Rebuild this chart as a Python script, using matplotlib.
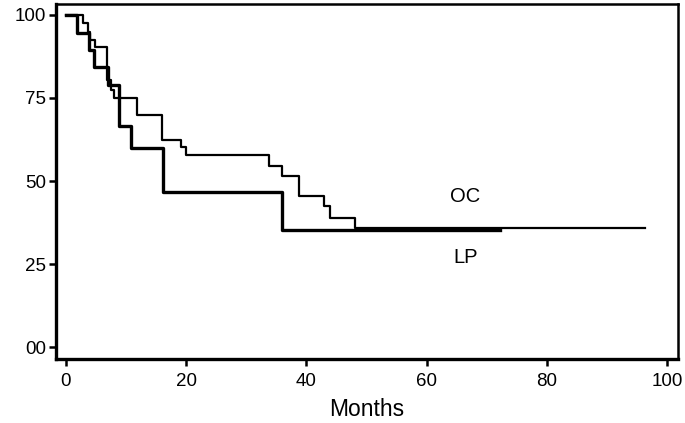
import matplotlib
matplotlib.use("Agg")
import matplotlib.pyplot as plt

plt.rcParams['font.family'] = ['Liberation Sans', 'DejaVu Sans']

# Kaplan-Meier steps (months, % surviving)
lp_t = [0, 1.9, 3.9, 4.7, 7.0, 8.9, 10.9, 16.1, 35.9, 72.2]
lp_s = [100, 94.7, 89.5, 84.2, 78.9, 66.7, 59.8, 46.8, 35.3, 35.3]

oc_t = [0, 2.9, 3.7, 4.0, 4.8, 6.9, 7.5, 8.0, 11.9, 16.0, 19.1, 20.0,
        33.8, 35.9, 38.8, 43.0, 43.9, 48.0, 96.3]
oc_s = [100, 97.5, 95, 92.5, 90.5, 80.4, 77.5, 74.9, 70.0, 62.3, 60.3, 57.8,
        54.6, 51.5, 45.5, 42.5, 38.9, 35.8, 35.8]

xticks = [0, 20, 40, 60, 80, 100]
yticks = [0, 25, 50, 75, 100]
ylabels = ["00", "25", "50", "75", "100"]

fig = plt.figure(figsize=(6.85, 4.23), dpi=100)
ax = fig.add_axes([0.0813, 0.1513, 0.9085, 0.8392])

ax.step(oc_t, oc_s, where='post', color='black', lw=1.6)
ax.step(lp_t, lp_s, where='post', color='black', lw=2.4)

ax.text(66.4, 45.2, "OC", fontsize=14.5, ha='center', va='center')
ax.text(66.4, 27.0, "LP", fontsize=14.5, ha='center', va='center')

ax.set_xlim(-1.7, 101.8)
ax.set_ylim(-3.6, 103.3)
ax.set_xticks(xticks)
ax.set_yticks(yticks)
ax.set_yticklabels(ylabels)
ax.tick_params(axis='both', labelsize=13.5, length=5, width=1.8)
ax.tick_params(axis='x', pad=5)
ax.tick_params(axis='y', pad=2)
for side in ['left', 'bottom']:
    ax.spines[side].set_linewidth(2.4)
for side in ['top', 'right']:
    ax.spines[side].set_linewidth(1.8)

ax.set_xlabel("Months", fontsize=16.5, labelpad=6)

fig.savefig("out.png", dpi=100)
